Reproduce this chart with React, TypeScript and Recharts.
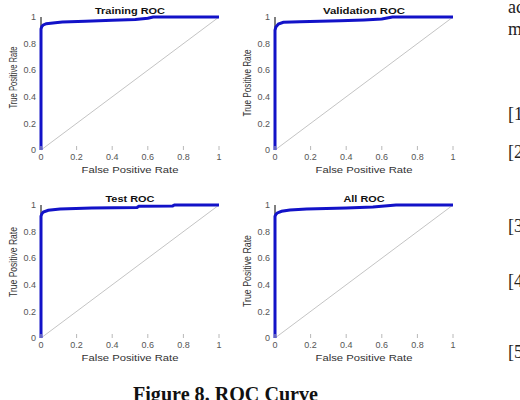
import { LineChart, Line, XAxis, YAxis } from 'recharts'

// shared axis ticks
const axisTicks = [0, 0.2, 0.4, 0.6, 0.8, 1]
const diagFpr = [0, 1]
const diagTpr = [0, 1]

// ROC curves
const trainFpr = [0, 0, 0.005, 0.013, 0.03, 0.08, 0.12, 0.25, 0.4, 0.53, 0.6, 0.63, 1]
const trainTpr = [0, 0.91, 0.93, 0.94, 0.95, 0.957, 0.962, 0.968, 0.975, 0.982, 0.99, 1, 1]

const validFpr = [0, 0, 0.005, 0.019, 0.047, 0.14, 0.365, 0.5, 0.6, 0.66, 1]
const validTpr = [0, 0.9, 0.925, 0.947, 0.96, 0.965, 0.972, 0.978, 0.985, 1, 1]

const testFpr = [0, 0, 0.005, 0.013, 0.041, 0.107, 0.285, 0.54, 0.55, 0.74, 0.75, 1]
const testTpr = [0, 0.915, 0.935, 0.947, 0.96, 0.97, 0.977, 0.982, 0.99, 0.993, 1, 1]

const allFpr = [0, 0, 0.005, 0.013, 0.037, 0.084, 0.178, 0.4, 0.55, 0.68, 1]
const allTpr = [0, 0.915, 0.93, 0.94, 0.953, 0.962, 0.97, 0.978, 0.985, 1, 1]

// text of the page around the figure (cut off at the right edge)
const sideText = ['ac', 'm', '[1', '[2', '[3', '[4', '[5']
const sideBaselines = [12.5, 35, 120, 158, 232, 287, 358]

const SANS = '"Liberation Sans", Arial, sans-serif'
const SERIF = '"Liberation Serif", "Times New Roman", serif'

const toPoints = (fpr: number[], tpr: number[]) => fpr.map((f, i) => ({ fpr: f, tpr: tpr[i] }))

function XTick(props: any) {
  const { x, y, payload } = props
  const axisY = y - 4
  return (
    <g>
      <line x1={x} x2={x} y1={axisY - 4} y2={axisY} stroke="#b8b8b8" />
      <text x={x} y={y} dy="0.71em" textAnchor="middle" fontSize={9} fill="#555" fontFamily={SANS}>
        {String(payload.value)}
      </text>
    </g>
  )
}

interface PanelProps {
  title: string
  titleLen: number
  fpr: number[]
  tpr: number[]
  left: number
  top: number
  yLabelY: number
  yLabelLen: number
}

function RocPanel({ title, titleLen, fpr, tpr, left, top, yLabelY, yLabelLen }: PanelProps) {
  return (
    <div style={{ position: 'absolute', left, top, width: 230, height: 183 }}>
      <LineChart width={230} height={183} margin={{ top: 17, right: 11, bottom: 0, left: 0 }}>
        <XAxis
          type="number"
          dataKey="fpr"
          domain={[0, 1]}
          ticks={axisTicks}
          height={33}
          axisLine={false}
          tickLine={false}
          tickSize={0}
          tickMargin={4}
          tick={<XTick />}
        />
        <YAxis
          type="number"
          dataKey="tpr"
          domain={[0, 1]}
          ticks={axisTicks}
          width={41}
          axisLine={{ stroke: '#000', strokeWidth: 1 }}
          tickLine={false}
          tickSize={0}
          tickMargin={5}
          tickFormatter={(v) => String(v)}
          tick={{ fontSize: 9, fill: '#555', fontFamily: SANS }}
        />
        <Line
          data={toPoints(diagFpr, diagTpr)}
          dataKey="tpr"
          stroke="#c4c4c4"
          strokeWidth={1}
          dot={false}
          type="linear"
          isAnimationActive={false}
          zIndex={600}
        />
        <Line
          data={toPoints(fpr, tpr)}
          dataKey="tpr"
          stroke="#1212c8"
          strokeWidth={3}
          dot={false}
          type="linear"
          isAnimationActive={false}
          zIndex={700}
        />
      </LineChart>
      <svg width={230} height={183} style={{ position: 'absolute', left: 0, top: 0, pointerEvents: 'none' }}>
        <text
          x={130}
          y={13.5}
          textAnchor="middle"
          fontSize={9}
          fontWeight="bold"
          fill="#111"
          fontFamily={SANS}
          textLength={titleLen}
          lengthAdjust="spacingAndGlyphs"
        >
          {title}
        </text>
        <text
          x={130}
          y={172.5}
          textAnchor="middle"
          fontSize={9}
          fill="#333"
          fontFamily={SANS}
          textLength={97}
          lengthAdjust="spacingAndGlyphs"
        >
          False Positive Rate
        </text>
        <text
          transform={`translate(17, ${yLabelY}) rotate(-90)`}
          textAnchor="middle"
          fontSize={10}
          fill="#333"
          fontFamily={SANS}
          textLength={yLabelLen}
          lengthAdjust="spacingAndGlyphs"
        >
          True Positive Rate
        </text>
      </svg>
    </div>
  )
}

export default function App() {
  return (
    <div
      style={{
        position: 'absolute',
        left: 0,
        top: 0,
        width: 520,
        height: 400,
        overflow: 'hidden',
        background: '#fff',
      }}
    >
      <RocPanel title="Training ROC" titleLen={70} fpr={trainFpr} tpr={trainTpr} left={0} top={0} yLabelY={77.5} yLabelLen={62} />
      <RocPanel title="Validation ROC" titleLen={82} fpr={validFpr} tpr={validTpr} left={234} top={0} yLabelY={83} yLabelLen={67} />
      <RocPanel title="Test ROC" titleLen={49} fpr={testFpr} tpr={testTpr} left={0} top={188} yLabelY={74} yLabelLen={70} />
      <RocPanel title="All ROC" titleLen={41} fpr={allFpr} tpr={allTpr} left={234} top={188} yLabelY={83} yLabelLen={72} />
      <svg width={520} height={400} style={{ position: 'absolute', left: 0, top: 0, pointerEvents: 'none' }}>
        <text
          x={133}
          y={401}
          fontSize={20}
          fontWeight="bold"
          fill="#111"
          fontFamily={SERIF}
          textLength={185}
          lengthAdjust="spacingAndGlyphs"
        >
          Figure 8. ROC Curve
        </text>
        {sideText.map((t, i) => (
          <text key={t} x={508} y={sideBaselines[i]} fontSize={18} fill="#222" fontFamily={SERIF}>
            {t}
          </text>
        ))}
      </svg>
    </div>
  )
}
